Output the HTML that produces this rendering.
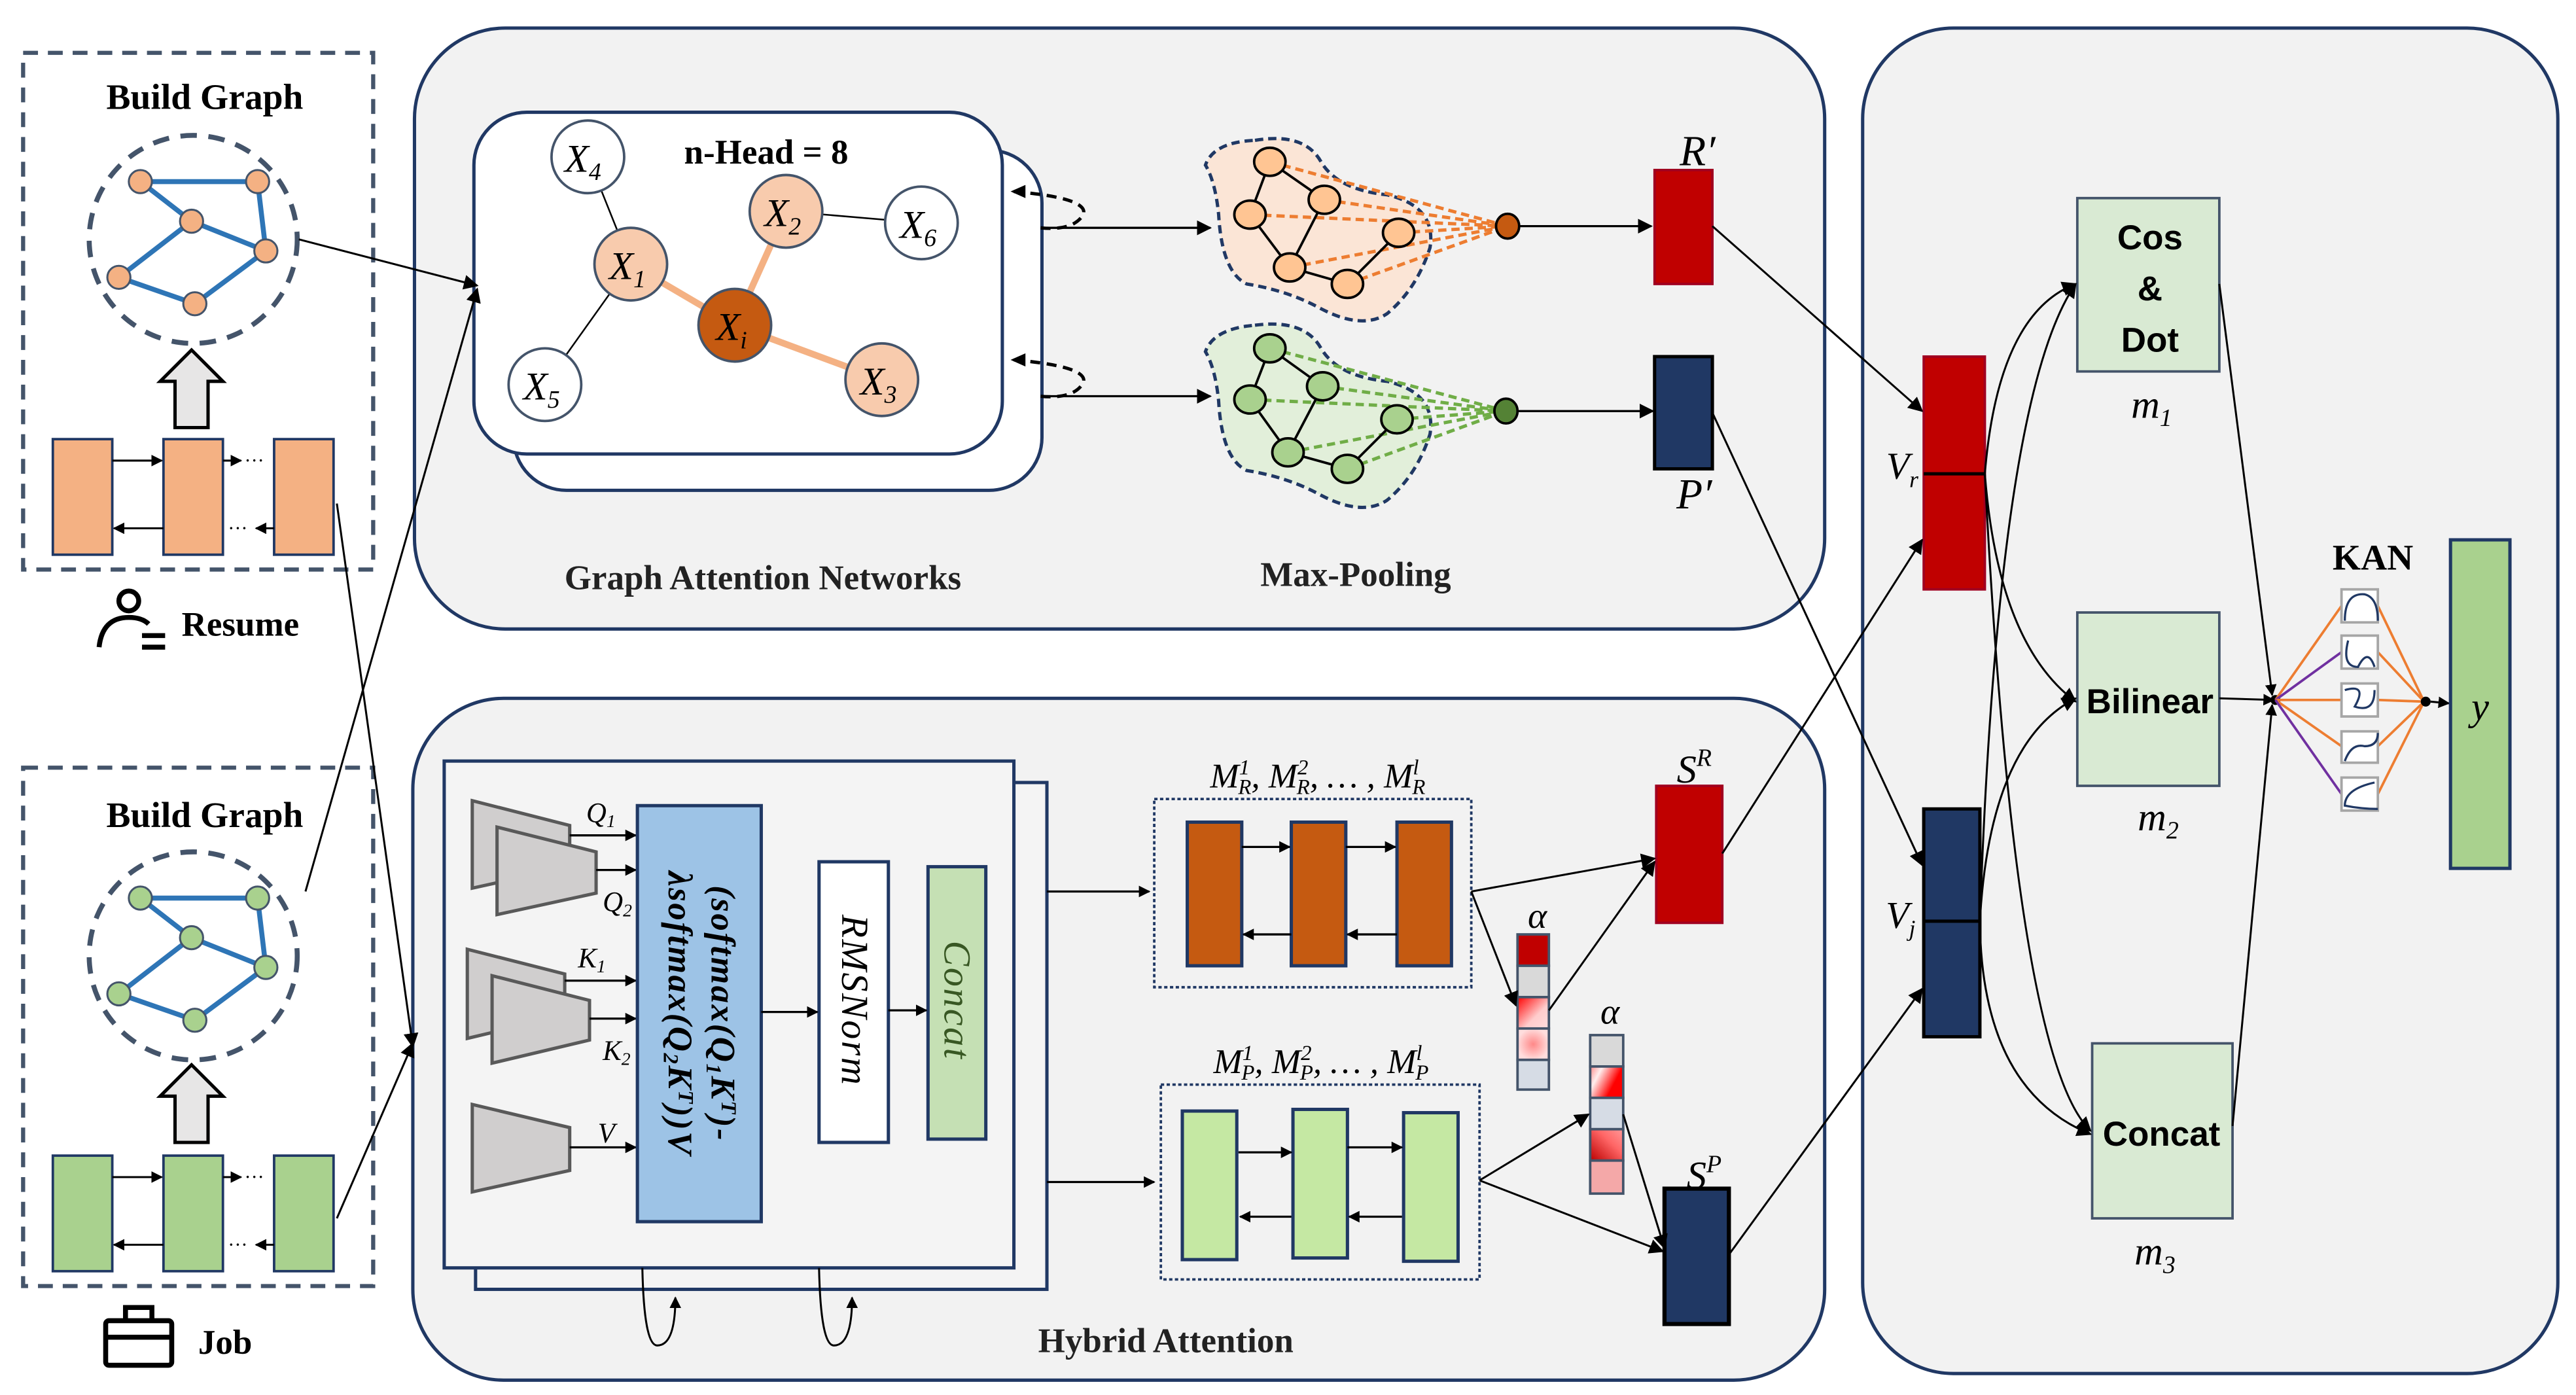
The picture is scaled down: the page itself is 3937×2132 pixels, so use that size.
<!DOCTYPE html>
<html><head><meta charset="utf-8"><style>
html,body{margin:0;padding:0;background:#fff;}
svg{display:block;}
.t{font-family:"Liberation Serif",serif;font-weight:bold;}
.m{font-family:"Liberation Serif",serif;font-style:italic;}
.s{font-family:"Liberation Sans",sans-serif;font-weight:bold;}
</style></head><body>
<svg width="3937" height="2132" viewBox="0 0 1560 845" preserveAspectRatio="none" xmlns="http://www.w3.org/2000/svg">
<defs>
<marker id="a" viewBox="0 0 10 10" refX="9" refY="5" markerWidth="9" markerHeight="9" markerUnits="userSpaceOnUse" orient="auto"><path d="M0,0L10,5L0,10z" fill="#000"/></marker>
<marker id="as" viewBox="0 0 10 10" refX="9" refY="5" markerWidth="7" markerHeight="7" markerUnits="userSpaceOnUse" orient="auto"><path d="M0,0L10,5L0,10z" fill="#000"/></marker>
<linearGradient id="g1" x1="0" y1="0" x2="1" y2="1"><stop offset="0" stop-color="#f00"/><stop offset="0.6" stop-color="#fcc"/><stop offset="1" stop-color="#fdd"/></linearGradient>
<radialGradient id="g2"><stop offset="0" stop-color="#f88"/><stop offset="1" stop-color="#fdd"/></radialGradient>
<linearGradient id="g3" x1="0" y1="0" x2="1" y2="0.5"><stop offset="0" stop-color="#f88"/><stop offset="0.3" stop-color="#fee"/><stop offset="0.8" stop-color="#f00"/></linearGradient>
<linearGradient id="g4" x1="0" y1="1" x2="1" y2="0"><stop offset="0" stop-color="#b00"/><stop offset="0.6" stop-color="#f66"/><stop offset="1" stop-color="#f99"/></linearGradient>
</defs>

<!-- LEFT: Resume -->
<rect x="14" y="32" width="212" height="313" fill="#fff" stroke="#44546a" stroke-width="2.5" stroke-dasharray="9,6"/>
<text x="124" y="66" class="t" font-size="22" text-anchor="middle">Build Graph</text>
<ellipse cx="117" cy="145" rx="63" ry="63" fill="none" stroke="#44546a" stroke-width="3" stroke-dasharray="10,7"/>
<g stroke="#2e75b6" stroke-width="3" fill="none">
<path d="M85,110L156,110L161,152L118,184L72,168L116,134L85,110M116,134L161,152"/>
</g>
<g fill="#f4b183" stroke="#44546a" stroke-width="1.2">
<ellipse cx="85" cy="110" rx="7" ry="7"/><ellipse cx="156" cy="110" rx="7" ry="7"/><ellipse cx="116" cy="134" rx="7" ry="7"/><ellipse cx="161" cy="152" rx="7" ry="7"/><ellipse cx="72" cy="168" rx="7" ry="7"/><ellipse cx="118" cy="184" rx="7" ry="7"/>
</g>
<path d="M116,212L135,231L126,231L126,259L106,259L106,231L97,231z" fill="#e7e6e6" stroke="#000" stroke-width="2"/>
<g fill="#f4b183" stroke="#203864" stroke-width="1.5">
<rect x="32" y="266" width="36" height="70"/><rect x="99" y="266" width="36" height="70"/><rect x="166" y="266" width="36" height="70"/>
</g>
<g stroke="#000" stroke-width="1.2" fill="none">
<line x1="68" y1="279" x2="98" y2="279" marker-end="url(#as)"/><line x1="135" y1="279" x2="146" y2="279" marker-end="url(#as)"/>
<line x1="99" y1="320" x2="69" y2="320" marker-end="url(#as)"/><line x1="166" y1="320" x2="155" y2="320" marker-end="url(#as)"/>
</g>
<text x="148" y="283" font-size="12">···</text><text x="138" y="324" font-size="12">···</text>
<circle cx="78" cy="364" r="6" fill="none" stroke="#000" stroke-width="3"/>
<path d="M60,392Q62,374 78,374Q86,374 90,378" fill="none" stroke="#000" stroke-width="3"/>
<line x1="86" y1="385" x2="100" y2="385" stroke="#000" stroke-width="3"/><line x1="86" y1="392" x2="100" y2="392" stroke="#000" stroke-width="3"/>
<text x="110" y="385" class="t" font-size="21">Resume</text>

<!-- LEFT: Job -->
<rect x="14" y="465" width="212" height="314" fill="#fff" stroke="#44546a" stroke-width="2.5" stroke-dasharray="9,6"/>
<text x="124" y="501" class="t" font-size="22" text-anchor="middle">Build Graph</text>
<ellipse cx="117" cy="579" rx="63" ry="63" fill="none" stroke="#44546a" stroke-width="3" stroke-dasharray="10,7"/>
<g stroke="#2e75b6" stroke-width="3" fill="none">
<path d="M85,544L156,544L161,586L118,618L72,602L116,568L85,544M116,568L161,586"/>
</g>
<g fill="#a9d18e" stroke="#44546a" stroke-width="1.2">
<ellipse cx="85" cy="544" rx="7" ry="7"/><ellipse cx="156" cy="544" rx="7" ry="7"/><ellipse cx="116" cy="568" rx="7" ry="7"/><ellipse cx="161" cy="586" rx="7" ry="7"/><ellipse cx="72" cy="602" rx="7" ry="7"/><ellipse cx="118" cy="618" rx="7" ry="7"/>
</g>
<path d="M116,645L135,664L126,664L126,692L106,692L106,664L97,664z" fill="#e7e6e6" stroke="#000" stroke-width="2"/>
<g fill="#a9d18e" stroke="#203864" stroke-width="1.5">
<rect x="32" y="700" width="36" height="70"/><rect x="99" y="700" width="36" height="70"/><rect x="166" y="700" width="36" height="70"/>
</g>
<g stroke="#000" stroke-width="1.2" fill="none">
<line x1="68" y1="713" x2="98" y2="713" marker-end="url(#as)"/><line x1="135" y1="713" x2="146" y2="713" marker-end="url(#as)"/>
<line x1="99" y1="754" x2="69" y2="754" marker-end="url(#as)"/><line x1="166" y1="754" x2="155" y2="754" marker-end="url(#as)"/>
</g>
<text x="148" y="717" font-size="12">···</text><text x="138" y="758" font-size="12">···</text>
<rect x="64" y="800" width="40" height="27" fill="none" stroke="#000" stroke-width="3" rx="2"/>
<path d="M76,800V792H92V800M64,810H104" fill="none" stroke="#000" stroke-width="3"/>
<text x="120" y="820" class="t" font-size="21">Job</text>

<!-- GAT panel -->
<rect x="251" y="17" width="854" height="364" rx="55" fill="#f2f2f2" stroke="#203864" stroke-width="2"/>
<rect x="311" y="91" width="320" height="206" rx="32" fill="#fff" stroke="#203864" stroke-width="2"/>
<rect x="287" y="68" width="320" height="207" rx="32" fill="#fff" stroke="#203864" stroke-width="2"/>
<text x="464" y="99" class="t" font-size="21" text-anchor="middle">n-Head = 8</text>
<g stroke="#000" stroke-width="1">
<line x1="356" y1="95" x2="382" y2="160"/><line x1="382" y1="160" x2="330" y2="233"/><line x1="476" y1="128" x2="558" y2="135"/>
</g>
<g stroke="#f4b183" stroke-width="4">
<line x1="382" y1="160" x2="445" y2="197"/><line x1="476" y1="128" x2="445" y2="197"/><line x1="445" y1="197" x2="534" y2="230"/>
</g>
<g stroke="#44546a" stroke-width="1.5">
<circle cx="356" cy="95" r="22" fill="#fff"/><circle cx="558" cy="135" r="22" fill="#fff"/><circle cx="330" cy="233" r="22" fill="#fff"/>
<circle cx="382" cy="160" r="22" fill="#f8cbad"/><circle cx="476" cy="128" r="22" fill="#f8cbad"/><circle cx="534" cy="230" r="22" fill="#f8cbad"/>
<circle cx="445" cy="197" r="22" fill="#c55a11"/>
</g>
<g class="m" font-size="24" text-anchor="middle">
<text x="353" y="104">X<tspan font-size="15" dy="5">4</tspan></text>
<text x="556" y="144">X<tspan font-size="15" dy="5">6</tspan></text>
<text x="328" y="242">X<tspan font-size="15" dy="5">5</tspan></text>
<text x="380" y="169">X<tspan font-size="15" dy="5">1</tspan></text>
<text x="474" y="137">X<tspan font-size="15" dy="5">2</tspan></text>
<text x="532" y="239">X<tspan font-size="15" dy="5">3</tspan></text>
<text x="443" y="206">X<tspan font-size="15" dy="5">i</tspan></text>
</g>
<g fill="none" stroke="#000" stroke-width="2" stroke-dasharray="6,4">
<path d="M614,116Q660,120 656,130Q650,140 630,138"/>
<path d="M614,218Q660,222 656,232Q650,242 630,240"/>
</g>
<path d="M612,116l9,-4l0,8z M612,218l9,-4l0,8z" fill="#000"/>
<g stroke="#000" stroke-width="1.3" fill="none">
<line x1="633" y1="138" x2="733" y2="138" marker-end="url(#a)"/>
<line x1="633" y1="240" x2="733" y2="240" marker-end="url(#a)"/>
</g>
<path d="M760,85Q790,80 800,98Q810,115 840,118Q870,125 866,150Q858,175 840,190Q825,200 800,187Q780,176 755,172Q740,165 738,130Q736,110 730,100Q735,86 760,85z" fill="#fbe5d6" stroke="#203864" stroke-width="2" stroke-dasharray="5,3"/>
<path d="M760,197Q790,193 800,211Q810,228 840,231Q870,238 866,263Q858,288 840,303Q825,313 800,300Q780,289 755,285Q740,278 738,243Q736,223 730,213Q735,199 760,197z" fill="#e2efda" stroke="#203864" stroke-width="2" stroke-dasharray="5,3"/>
<g stroke="#ed7d31" stroke-width="2" stroke-dasharray="5,3">
<line x1="769" y1="98" x2="913" y2="137"/><line x1="757" y1="130" x2="913" y2="137"/><line x1="802" y1="121" x2="913" y2="137"/><line x1="847" y1="141" x2="913" y2="137"/><line x1="781" y1="162" x2="913" y2="137"/><line x1="816" y1="172" x2="913" y2="137"/>
</g>
<g stroke="#70ad47" stroke-width="2" stroke-dasharray="5,3">
<line x1="769" y1="211" x2="912" y2="249"/><line x1="757" y1="242" x2="912" y2="249"/><line x1="801" y1="234" x2="912" y2="249"/><line x1="846" y1="254" x2="912" y2="249"/><line x1="780" y1="274" x2="912" y2="249"/><line x1="816" y1="284" x2="912" y2="249"/>
</g>
<g stroke="#000" stroke-width="1.5">
<path d="M769,98L757,130L781,162L816,172L847,141M769,98L802,121L781,162" fill="none"/>
<path d="M769,211L757,242L780,274L816,284L846,254M769,211L801,234L780,274" fill="none"/>
<g fill="#ffc593"><ellipse cx="769" cy="98" rx="9.5" ry="8.5"/><ellipse cx="757" cy="130" rx="9.5" ry="8.5"/><ellipse cx="802" cy="121" rx="9.5" ry="8.5"/><ellipse cx="847" cy="141" rx="9.5" ry="8.5"/><ellipse cx="781" cy="162" rx="9.5" ry="8.5"/><ellipse cx="816" cy="172" rx="9.5" ry="8.5"/></g>
<g fill="#a9d18e"><ellipse cx="769" cy="211" rx="9.5" ry="8.5"/><ellipse cx="757" cy="242" rx="9.5" ry="8.5"/><ellipse cx="801" cy="234" rx="9.5" ry="8.5"/><ellipse cx="846" cy="254" rx="9.5" ry="8.5"/><ellipse cx="780" cy="274" rx="9.5" ry="8.5"/><ellipse cx="816" cy="284" rx="9.5" ry="8.5"/></g>
<ellipse cx="913" cy="137" rx="7" ry="7.5" fill="#c55a11"/><ellipse cx="912" cy="249" rx="7" ry="7.5" fill="#548235"/>
</g>
<g stroke="#000" stroke-width="1.3">
<line x1="920" y1="137" x2="1000" y2="137" marker-end="url(#a)"/><line x1="919" y1="249" x2="1001" y2="249" marker-end="url(#a)"/>
</g>
<rect x="1002" y="103" width="35" height="69" fill="#c00000" stroke="#a00020" stroke-width="1.5"/>
<rect x="1002" y="216" width="35" height="68" fill="#203864" stroke="#000" stroke-width="2"/>
<text x="1028" y="100" class="m" font-size="26" text-anchor="middle">R′</text>
<text x="1026" y="308" class="m" font-size="26" text-anchor="middle">P′</text>
<text x="462" y="357" class="t" font-size="21" text-anchor="middle" fill="#222">Graph Attention Networks</text>
<text x="821" y="355" class="t" font-size="21" text-anchor="middle" fill="#222">Max-Pooling</text>

<!-- Hybrid panel -->
<rect x="250" y="423" width="855" height="413" rx="55" fill="#f2f2f2" stroke="#203864" stroke-width="2"/>
<rect x="288" y="474" width="346" height="307" fill="#f4f4f4" stroke="#203864" stroke-width="2"/>
<rect x="269" y="461" width="345" height="307" fill="#f4f4f4" stroke="#203864" stroke-width="2"/>
<g fill="#d0cece" stroke="#595959" stroke-width="2">
<path d="M286,485L345,500L345,525L286,538z"/><path d="M301,501L361,516L361,541L301,554z"/>
<path d="M283,575L342,590L342,615L283,629z"/><path d="M298,591L357,606L357,630L298,644z"/>
<path d="M286,669L345,683L345,709L286,722z"/>
</g>
<g stroke="#000" stroke-width="1.3">
<line x1="345" y1="506" x2="385" y2="506" marker-end="url(#as)"/><line x1="361" y1="527" x2="385" y2="527" marker-end="url(#as)"/>
<line x1="342" y1="594" x2="385" y2="594" marker-end="url(#as)"/><line x1="357" y1="617" x2="385" y2="617" marker-end="url(#as)"/>
<line x1="345" y1="695" x2="385" y2="695" marker-end="url(#as)"/>
</g>
<g class="m" font-size="17">
<text x="355" y="498">Q<tspan font-size="11" dy="3">1</tspan></text><text x="365" y="552">Q<tspan font-size="11" dy="3">2</tspan></text>
<text x="350" y="586">K<tspan font-size="11" dy="3">1</tspan></text><text x="365" y="642">K<tspan font-size="11" dy="3">2</tspan></text>
<text x="362" y="692">V</text>
</g>
<rect x="386" y="488" width="75" height="252" fill="#9dc3e6" stroke="#203864" stroke-width="2"/>
<g transform="translate(423,614) rotate(90)" font-family="Liberation Serif,serif" font-weight="bold" font-style="italic" font-size="21" text-anchor="middle" letter-spacing="1">
<text x="0" y="-8">(softmax(Q<tspan font-size="13" dy="3">1</tspan><tspan dy="-3">K</tspan><tspan font-size="13" dy="-6">T</tspan><tspan dy="6">)-</tspan></text>
<text x="0" y="18">λsoftmax(Q<tspan font-size="13" dy="3">2</tspan><tspan dy="-3">K</tspan><tspan font-size="13" dy="-6">T</tspan><tspan dy="6">))V</tspan></text>
</g>
<rect x="496" y="522" width="42" height="170" fill="#fff" stroke="#203864" stroke-width="2"/>
<text transform="translate(510,606) rotate(90)" class="m" font-size="23" text-anchor="middle" letter-spacing="1">RMSNorm</text>
<rect x="562" y="525" width="35" height="165" fill="#c5e0b4" stroke="#203864" stroke-width="2"/>
<text transform="translate(572,606) rotate(90)" class="m" font-size="23" text-anchor="middle" fill="#385723" letter-spacing="1">Concat</text>
<g stroke="#000" stroke-width="1.3">
<line x1="461" y1="613" x2="495" y2="613" marker-end="url(#as)"/><line x1="538" y1="612" x2="561" y2="612" marker-end="url(#as)"/>
</g>
<g fill="none" stroke="#000" stroke-width="1.2">
<path d="M389,768Q390,815 398,815Q409,815 409,786" marker-end="url(#as)"/>
<path d="M496,768Q497,815 505,815Q516,815 516,786" marker-end="url(#as)"/>
</g>
<text x="706" y="819" class="t" font-size="21" text-anchor="middle" fill="#222">Hybrid Attention</text>
<g stroke="#000" stroke-width="1.3">
<line x1="634" y1="540" x2="696" y2="540" marker-end="url(#as)"/><line x1="634" y1="716" x2="699" y2="716" marker-end="url(#as)"/>
</g>
<rect x="699" y="484" width="192" height="114" fill="none" stroke="#203864" stroke-width="1.5" stroke-dasharray="2,1.5"/>
<g fill="#c55a11" stroke="#203864" stroke-width="2">
<rect x="719" y="498" width="33" height="87"/><rect x="782" y="498" width="33" height="87"/><rect x="846" y="498" width="33" height="87"/>
</g>
<g stroke="#000" stroke-width="1.3">
<line x1="752" y1="513" x2="781" y2="513" marker-end="url(#as)"/><line x1="815" y1="513" x2="845" y2="513" marker-end="url(#as)"/>
<line x1="782" y1="566" x2="753" y2="566" marker-end="url(#as)"/><line x1="846" y1="566" x2="816" y2="566" marker-end="url(#as)"/>
</g>
<rect x="703" y="657" width="193" height="118" fill="none" stroke="#203864" stroke-width="1.5" stroke-dasharray="2,1.5"/>
<g fill="#c5e8a3" stroke="#203864" stroke-width="2">
<rect x="716" y="673" width="33" height="90"/><rect x="783" y="672" width="33" height="90"/><rect x="850" y="674" width="33" height="90"/>
</g>
<g stroke="#000" stroke-width="1.3">
<line x1="750" y1="698" x2="782" y2="698" marker-end="url(#as)"/><line x1="816" y1="695" x2="849" y2="695" marker-end="url(#as)"/>
<line x1="782" y1="737" x2="751" y2="737" marker-end="url(#as)"/><line x1="849" y1="737" x2="817" y2="737" marker-end="url(#as)"/>
</g>
<g class="m" font-size="21" text-anchor="middle">
<text x="798" y="477">M<tspan font-size="13" dy="-8">1</tspan><tspan font-size="13" dx="-7" dy="12">R</tspan><tspan dy="-4">, M</tspan><tspan font-size="13" dy="-8">2</tspan><tspan font-size="13" dx="-7" dy="12">R</tspan><tspan dy="-4">, … , M</tspan><tspan font-size="13" dy="-8">l</tspan><tspan font-size="13" dx="-4" dy="12">R</tspan></text>
<text x="800" y="650">M<tspan font-size="13" dy="-8">1</tspan><tspan font-size="13" dx="-7" dy="12">P</tspan><tspan dy="-4">, M</tspan><tspan font-size="13" dy="-8">2</tspan><tspan font-size="13" dx="-7" dy="12">P</tspan><tspan dy="-4">, … , M</tspan><tspan font-size="13" dy="-8">l</tspan><tspan font-size="13" dx="-4" dy="12">P</tspan></text>
</g>
<g stroke="#44546a" stroke-width="1.5">
<rect x="919" y="566" width="19" height="19" fill="#c00000"/><rect x="919" y="585" width="19" height="19" fill="#d9d9d9"/><rect x="919" y="604" width="19" height="19" fill="url(#g1)"/><rect x="919" y="623" width="19" height="19" fill="url(#g2)"/><rect x="919" y="642" width="19" height="18" fill="#d6dce5"/>
<rect x="963" y="627" width="20" height="19" fill="#d9d9d9"/><rect x="963" y="646" width="20" height="19" fill="url(#g3)"/><rect x="963" y="665" width="20" height="19" fill="#d6dce5"/><rect x="963" y="684" width="20" height="19" fill="url(#g4)"/><rect x="963" y="703" width="20" height="20" fill="#f4a8a8"/>
</g>
<text x="931" y="562" class="m" font-size="22" text-anchor="middle">α</text>
<text x="975" y="620" class="m" font-size="22" text-anchor="middle">α</text>
<rect x="1003" y="476" width="40" height="83" fill="#c00000" stroke="#a00020" stroke-width="1.5"/>
<rect x="1008" y="720" width="39" height="82" fill="#203864" stroke="#000" stroke-width="2.5"/>
<text x="1026" y="474" class="m" font-size="24" text-anchor="middle">S<tspan font-size="15" dy="-10">R</tspan></text>
<text x="1032" y="720" class="m" font-size="24" text-anchor="middle">S<tspan font-size="15" dy="-10">P</tspan></text>

<!-- Right panel -->
<rect x="1128" y="17" width="421" height="815" rx="55" fill="#f2f2f2" stroke="#203864" stroke-width="2"/>
<rect x="1165" y="216" width="37" height="141" fill="#c00000" stroke="#a00020" stroke-width="1.5"/>
<line x1="1165" y1="287" x2="1202" y2="287" stroke="#000" stroke-width="2"/>
<rect x="1165" y="490" width="34" height="138" fill="#203864" stroke="#000" stroke-width="2"/>
<line x1="1165" y1="558" x2="1199" y2="558" stroke="#000" stroke-width="2"/>
<text x="1152" y="290" class="m" font-size="23" text-anchor="middle">V<tspan font-size="14" dy="5">r</tspan></text>
<text x="1151" y="562" class="m" font-size="23" text-anchor="middle">V<tspan font-size="14" dy="5">j</tspan></text>
<g fill="#d9ead3" stroke="#44546a" stroke-width="1.5">
<rect x="1258" y="120" width="86" height="105"/><rect x="1258" y="371" width="86" height="105"/><rect x="1267" y="632" width="85" height="106"/>
</g>
<g class="s" font-size="21" text-anchor="middle">
<text x="1302" y="151">Cos</text><text x="1302" y="182">&amp;</text><text x="1302" y="213">Dot</text>
<text x="1302" y="432">Bilinear</text><text x="1309" y="694">Concat</text>
</g>
<g class="m" font-size="24" text-anchor="middle">
<text x="1303" y="253">m<tspan font-size="15" dy="5">1</tspan></text>
<text x="1307" y="503">m<tspan font-size="15" dy="5">2</tspan></text>
<text x="1305" y="766">m<tspan font-size="15" dy="5">3</tspan></text>
</g>
<g fill="none" stroke="#000" stroke-width="1.2">
<path d="M1202,287Q1210,190 1257,172" marker-end="url(#a)"/>
<path d="M1202,287Q1210,390 1257,425" marker-end="url(#a)"/>
<path d="M1202,287Q1220,640 1266,685" marker-end="url(#a)"/>
<path d="M1199,558Q1210,240 1257,172" marker-end="url(#a)"/>
<path d="M1199,558Q1205,450 1257,423" marker-end="url(#a)"/>
<path d="M1199,558Q1200,660 1266,687" marker-end="url(#a)"/>
<line x1="1344" y1="172" x2="1376" y2="421" marker-end="url(#as)"/>
<line x1="1344" y1="423" x2="1377" y2="424" marker-end="url(#as)"/>
<line x1="1352" y1="682" x2="1376" y2="427" marker-end="url(#as)"/>
</g>
<circle cx="1378" cy="424" r="3" fill="#000"/>
<text x="1437" y="345" font-family="Liberation Serif,serif" font-weight="bold" font-size="22" text-anchor="middle">KAN</text>
<g stroke-width="1.5">
<line x1="1378" y1="424" x2="1418" y2="367" stroke="#ed7d31"/><line x1="1378" y1="424" x2="1418" y2="395" stroke="#7030a0"/><line x1="1378" y1="424" x2="1418" y2="424" stroke="#ed7d31"/><line x1="1378" y1="424" x2="1418" y2="452" stroke="#ed7d31"/><line x1="1378" y1="424" x2="1418" y2="481" stroke="#7030a0"/>
<line x1="1440" y1="367" x2="1468" y2="425" stroke="#ed7d31"/><line x1="1440" y1="395" x2="1468" y2="425" stroke="#ed7d31"/><line x1="1440" y1="424" x2="1468" y2="425" stroke="#ed7d31"/><line x1="1440" y1="452" x2="1468" y2="425" stroke="#ed7d31"/><line x1="1440" y1="481" x2="1468" y2="425" stroke="#ed7d31"/>
</g>
<g fill="#fff" stroke="#a6a6a6" stroke-width="1.5">
<rect x="1418" y="357" width="22" height="20"/><rect x="1418" y="385" width="22" height="20"/><rect x="1418" y="414" width="22" height="20"/><rect x="1418" y="443" width="22" height="19"/><rect x="1418" y="471" width="22" height="20"/>
</g>
<g fill="none" stroke="#203864" stroke-width="1.3">
<path d="M1420,376Q1420,359 1432,360Q1440,362 1440,376"/>
<path d="M1422,388Q1418,404 1428,404Q1434,392 1438,404"/>
<path d="M1420,418Q1434,414 1426,428Q1438,432 1438,418"/>
<path d="M1420,461Q1424,450 1432,452Q1440,452 1440,444"/>
<path d="M1438,474Q1420,478 1420,488Q1430,490 1440,490"/>
</g>
<circle cx="1469" cy="425" r="3" fill="#000"/>
<line x1="1472" y1="425" x2="1483" y2="426" stroke="#000" stroke-width="1.2" marker-end="url(#as)"/>
<rect x="1484" y="327" width="36" height="199" fill="#a9d18e" stroke="#203864" stroke-width="2"/>
<text x="1502" y="436" class="m" font-size="24" text-anchor="middle">y</text>

<!-- connectors drawn on top -->
<g stroke="#000" stroke-width="1.2" fill="none">
<line x1="891" y1="540" x2="1002" y2="520" marker-end="url(#a)"/>
<line x1="891" y1="540" x2="918" y2="609" marker-end="url(#a)"/>
<line x1="938" y1="612" x2="1002" y2="522" marker-end="url(#a)"/>
<line x1="896" y1="715" x2="962" y2="675" marker-end="url(#a)"/>
<line x1="896" y1="715" x2="1007" y2="758" marker-end="url(#a)"/>
<line x1="983" y1="675" x2="1008" y2="756" marker-end="url(#a)"/>
<line x1="1043" y1="517" x2="1164" y2="327" marker-end="url(#a)"/>
<line x1="1047" y1="760" x2="1164" y2="599" marker-end="url(#a)"/>
<line x1="1037" y1="137" x2="1164" y2="249" marker-end="url(#a)"/>
<line x1="1037" y1="250" x2="1164" y2="524" marker-end="url(#a)"/>
<line x1="181" y1="145" x2="289" y2="173" marker-end="url(#a)"/>
<line x1="185" y1="540" x2="289" y2="175" marker-end="url(#a)"/>
<line x1="204" y1="305" x2="250" y2="634" marker-end="url(#a)"/>
<line x1="204" y1="738" x2="250" y2="632" marker-end="url(#a)"/>
</g>
</svg>
</body></html>
